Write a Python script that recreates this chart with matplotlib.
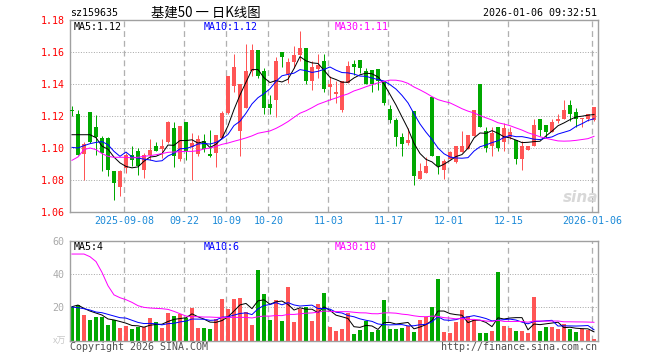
import matplotlib
matplotlib.use('Agg')
import matplotlib.pyplot as plt
import numpy as np
import pandas as pd

# ---------------- data ----------------
opens = [1.1238, 1.1215, 1.0962, 1.1227, 1.1129, 1.1062, 1.1062, 1.0858, 1.0754, 1.0875,
         1.0958, 1.0983, 1.0864, 1.0958, 1.1014, 1.0996, 1.1035, 1.1127, 1.0933, 1.1160,
         1.1006, 1.0964, 1.1046, 1.0965, 1.0969, 1.1062, 1.1219, 1.1385, 1.1108, 1.1250,
         1.1483, 1.1614, 1.1479, 1.1277, 1.1302, 1.1600, 1.1462, 1.1535, 1.1579, 1.1625,
         1.1417, 1.1496, 1.1546, 1.1379, 1.1340, 1.1235, 1.1406, 1.1527, 1.1552, 1.1480,
         1.1489, 1.1492, 1.1417, 1.1246, 1.1173, 1.1069, 1.1031, 1.1229, 1.0806, 1.0844,
         1.1317, 1.0948, 1.0864, 1.0931, 1.0910, 1.0973, 1.0994, 1.1077, 1.1402, 1.1108,
         1.1010, 1.1131, 1.1035, 1.1069, 1.1048, 1.0931, 1.0985, 1.1014, 1.1183, 1.1146,
         1.1098, 1.1171, 1.1181, 1.1267, 1.1225, 1.1181, 1.1181, 1.1177]
highs = [1.1265, 1.1235, 1.1035, 1.1227, 1.1208, 1.1073, 1.1067, 1.0858, 1.0865, 1.0969,
         1.1010, 1.1000, 1.0970, 1.1058, 1.1040, 1.1058, 1.1167, 1.1160, 1.1135, 1.1165,
         1.1095, 1.1080, 1.1090, 1.1110, 1.1083, 1.1229, 1.1448, 1.1587, 1.1402, 1.1652,
         1.1652, 1.1614, 1.1500, 1.1333, 1.1567, 1.1600, 1.1562, 1.1635, 1.1733, 1.1625,
         1.1542, 1.1587, 1.1587, 1.1448, 1.1417, 1.1420, 1.1546, 1.1552, 1.1552, 1.1497,
         1.1489, 1.1492, 1.1417, 1.1271, 1.1187, 1.1094, 1.1125, 1.1229, 1.0906, 1.0944,
         1.1317, 1.0948, 1.0931, 1.0980, 1.1015, 1.1104, 1.1083, 1.1240, 1.1402, 1.1131,
         1.1131, 1.1131, 1.1156, 1.1131, 1.1048, 1.1042, 1.1010, 1.1183, 1.1183, 1.1146,
         1.1183, 1.1214, 1.1298, 1.1298, 1.1250, 1.1190, 1.1212, 1.1256]
lows = [1.1200, 1.0958, 1.0800, 1.1030, 1.0958, 1.0854, 1.0823, 1.0677, 1.0698, 1.0844,
        1.0885, 1.0830, 1.0810, 1.0927, 1.0980, 1.0940, 1.1030, 1.0883, 1.0920, 1.0927,
        1.0800, 1.0948, 1.0975, 1.0945, 1.0881, 1.1062, 1.1210, 1.1348, 1.0952, 1.1250,
        1.1448, 1.1437, 1.1212, 1.1212, 1.1194, 1.1504, 1.1406, 1.1500, 1.1542, 1.1402,
        1.1360, 1.1437, 1.1348, 1.1302, 1.1281, 1.1223, 1.1406, 1.1458, 1.1469, 1.1398,
        1.1348, 1.1364, 1.1271, 1.1156, 1.1010, 1.0952, 1.1021, 1.0771, 1.0806, 1.0844,
        1.0948, 1.0839, 1.0806, 1.0931, 1.0905, 1.0973, 1.0994, 1.1077, 1.1131, 1.0973,
        1.0952, 1.0979, 1.0979, 1.1056, 1.0902, 1.0860, 1.0985, 1.1014, 1.1077, 1.1062,
        1.1098, 1.1156, 1.1181, 1.1171, 1.1131, 1.1131, 1.1170, 1.1170]
closes = [1.1233, 1.0958, 1.1027, 1.1035, 1.1069, 1.0971, 1.0860, 1.0781, 1.0854, 1.0958,
          1.0927, 1.0890, 1.0958, 1.0985, 1.0980, 1.1010, 1.1160, 1.0948, 1.1135, 1.0980,
          1.1033, 1.1058, 1.0995, 1.0948, 1.1083, 1.1219, 1.1448, 1.1504, 1.1402, 1.1483,
          1.1614, 1.1448, 1.1250, 1.1250, 1.1546, 1.1569, 1.1535, 1.1579, 1.1625, 1.1417,
          1.1504, 1.1517, 1.1369, 1.1402, 1.1348, 1.1420, 1.1515, 1.1504, 1.1500, 1.1400,
          1.1400, 1.1417, 1.1281, 1.1177, 1.1069, 1.1027, 1.1048, 1.0827, 1.0858, 1.0885,
          1.0948, 1.0885, 1.0917, 1.0973, 1.1010, 1.1010, 1.1083, 1.1235, 1.1131, 1.1000,
          1.1094, 1.1000, 1.1125, 1.1098, 1.0931, 1.1014, 1.1010, 1.1146, 1.1110, 1.1098,
          1.1160, 1.1181, 1.1235, 1.1212, 1.1181, 1.1185, 1.1212, 1.1256]
volumes = [20.0, 21.2, 15.4, 12.4, 14.0, 14.0, 9.4, 12.4, 7.8, 9.0,
           7.0, 8.4, 8.4, 13.6, 11.2, 7.8, 16.6, 14.8, 16.0, 13.6,
           19.6, 7.8, 7.8, 7.0, 12.8, 25.0, 19.0, 25.0, 25.6, 17.2,
           9.4, 42.4, 28.0, 12.4, 24.4, 11.8, 32.2, 11.2, 19.0, 20.2,
           11.8, 22.0, 28.6, 8.4, 5.8, 7.0, 16.8, 4.0, 6.4, 11.8,
           5.2, 6.4, 24.4, 7.0, 7.0, 7.6, 8.8, 5.2, 12.4, 14.2,
           20.2, 37.0, 5.2, 4.6, 11.2, 18.4, 14.8, 12.4, 4.6, 4.6,
           5.8, 41.2, 8.8, 7.6, 5.8, 5.8, 4.6, 26.2, 5.8, 8.2,
           8.2, 7.0, 10.0, 7.0, 5.2, 7.0, 6.4, 1.0]

# moving-average values at the start of the window (read off the picture,
# they depend on sessions that are not drawn)
ma5_head = [1.1083, 1.1083, 1.1083, 1.1083]
ma10_head = [1.1004, 1.1000, 1.1015, 1.1027, 1.1035, 1.1040, 1.1021, 1.0979, 1.0948]
ma30_head = [1.0923, 1.0944, 1.0990, 1.1000, 1.0990, 1.0965, 1.0948, 1.0942, 1.0942, 1.0942,
             1.0938, 1.0942, 1.0948, 1.0952, 1.0958, 1.0965, 1.0973, 1.0975, 1.0977, 1.0979,
             1.0979, 1.0983, 1.0994, 1.1000, 1.1010, 1.1023, 1.1031, 1.1042, 1.1052]
vma5_head = [20.4, 21.4, 19.4, 17.8]
vma10_head = [20.2, 19.8, 19.2, 18.4, 17.2, 16.8, 15.8, 14.8, 13.8]
vma30_head = [52.0, 52.0, 52.0, 50.4, 47.5, 41.0, 33.0, 27.5, 25.8, 24.6,
              23.0, 21.0, 20.0, 19.6, 19.4, 19.2, 18.8, 17.6, 16.2, 14.8,
              14.4, 14.4, 14.2, 14.2, 14.0, 14.0, 14.0, 14.0, 14.0]

date_index = [9, 19, 26, 33, 43, 53, 63, 73, 87]
date_labels = ['2025-09-08', '09-22', '10-09', '10-20', '11-03', '11-17', '12-01', '12-15', '2026-01-06']
price_ticks = [1.06, 1.08, 1.10, 1.12, 1.14, 1.16, 1.18]
vol_ticks = [20, 40, 60]

code_text = 'sz159635'
title_text = '基建50 一 日K线图'
time_text = '2026-01-06 09:32:51'
legend_price = ['MA5:1.12', 'MA10:1.12', 'MA30:1.11']
legend_vol = ['MA5:4', 'MA10:6', 'MA30:10']

# ---------------- styling ----------------
W, H = 660, 360
RED = '#ff5555'
GREEN = '#00a800'
MA_COLORS = ['#000000', '#0000ff', '#ff00ff']
GRID = '#b0b0b0'
FRAME = '#a0a0a0'
MONO = 'DejaVu Sans Mono'
PX = 72.0 / 100.0  # one pixel in points


def ma(values, n, head):
    s = pd.Series(values, dtype=float).rolling(n).mean().to_numpy()
    s[:len(head)] = head
    return s


def fx(x):
    return x / W


def fy(y):
    return 1 - y / H


fig = plt.figure(figsize=(W / 100, H / 100), dpi=100)
fig.patch.set_facecolor('white')

ax = fig.add_axes([fx(70), fy(212), fx(598) - fx(70), fy(20) - fy(212)])
axv = fig.add_axes([fx(70), fy(340.7), fx(598) - fx(70), fy(240.7) - fy(340.7)])

n = len(closes)
idx = np.arange(n)
o = np.array(opens); c = np.array(closes); h = np.array(highs); l = np.array(lows)
up = c >= o
cols = np.where(up, RED, GREEN)

xmin, xmax = -0.33, n - 0.33
for a in (ax, axv):
    a.set_xlim(xmin, xmax)
    for s in a.spines.values():
        s.set_color(FRAME)
        s.set_linewidth(1.4 * PX)
    a.tick_params(length=0)
    a.set_xticks([])
    for d in date_index:
        a.axvline(d - 0.28, color=GRID, lw=1.3 * PX, ls=(0, (4.5, 3)), zorder=0.5)

ax.set_ylim(1.06, 1.18)
axv.set_ylim(0, 60)

for p in price_ticks[1:-1]:
    ax.axhline(p, color='#aaaaaa', lw=1 * PX, ls=(0, (1, 1.6)), zorder=0.5)
for v in vol_ticks[:-1]:
    axv.axhline(v, color='#aaaaaa', lw=1 * PX, ls=(0, (1, 1.6)), zorder=0.5)

# candles
bw = 0.8
body_lo = np.minimum(o, c)
body_h = np.maximum(np.abs(c - o), 0.0007)
ax.vlines(idx, l, h, colors=cols, lw=1 * PX, zorder=2)
ax.bar(idx, body_h, bottom=body_lo, width=bw, color=cols, lw=0, zorder=3)

# volume
axv.bar(idx, volumes, width=bw, color=cols, lw=0, zorder=2)

# moving averages
for series, heads, a in ((closes, (ma5_head, ma10_head, ma30_head), ax),
                         (volumes, (vma5_head, vma10_head, vma30_head), axv)):
    for win, head, col in zip((5, 10, 30), heads, MA_COLORS):
        a.plot(idx, ma(series, win, head), color=col, lw=1 * PX, zorder=4)

ax.set_yticks(price_ticks)
ax.set_yticklabels([f'{p:.2f}' for p in price_ticks], fontsize=7.2, family=MONO, color='#ff0000')
axv.set_yticks(vol_ticks)
axv.set_yticklabels([str(v) for v in vol_ticks], fontsize=7.2, family=MONO, color='#aaaaaa')
for a in (ax, axv):
    a.tick_params(axis='y', pad=4)

# date labels
for d, lab in zip(date_index, date_labels):
    ax.text(d - 0.28, 1.06 - 0.0059, lab, ha='center', va='center', fontsize=7.2,
            family=MONO, color='#1c8ad8', clip_on=False)

# top texts
fig.text(fx(70), fy(13), code_text, ha='left', va='center', fontsize=7.2, family=MONO)
fig.text(fx(206), fy(12.5), title_text, ha='center', va='center', fontsize=9.6,
         family=['Noto Sans CJK SC', 'DejaVu Sans'])
fig.text(fx(597), fy(13), time_text, ha='right', va='center', fontsize=7.2, family=MONO)

# legends
for lx, txt, col in zip((74, 204, 335), legend_price, MA_COLORS):
    fig.text(fx(lx), fy(26.5), txt, ha='left', va='center', fontsize=7.2, family=MONO, color=col)
for lx, txt, col in zip((74, 204, 335), legend_vol, MA_COLORS):
    fig.text(fx(lx), fy(246.5), txt, ha='left', va='center', fontsize=7.2, family=MONO, color=col)

# bottom texts
fig.text(fx(66), fy(341), 'x万', ha='right', va='center', fontsize=6.5,
         family=['Noto Sans CJK SC', 'DejaVu Sans'], color='#c8c8c8')
fig.text(fx(70), fy(347), 'Copyright 2026 SINA.COM', ha='left', va='center', fontsize=7.2,
         family=MONO, color='#505050')
fig.text(fx(597), fy(347), 'http://finance.sina.com.cn', ha='right', va='center', fontsize=7.2,
         family=MONO, color='#505050')

# watermark
fig.text(fx(581), fy(197), 'sina', ha='center', va='center', fontsize=11, style='italic',
         weight='bold', color='#d8d8d8', family='DejaVu Sans')

fig.savefig('out.png', dpi=100)
